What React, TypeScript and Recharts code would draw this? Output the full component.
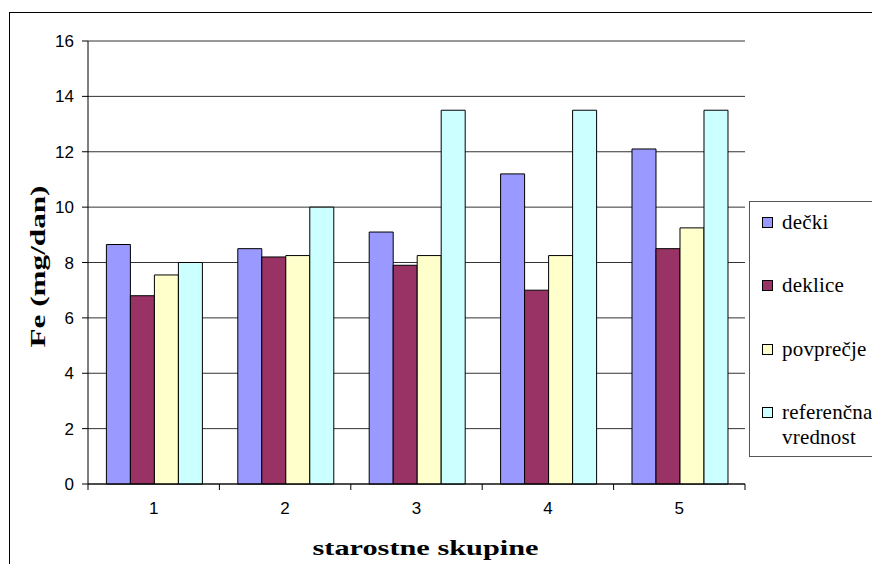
import React from 'react';
import { BarChart, Bar, XAxis, YAxis, CartesianGrid, Legend } from 'recharts';

const categories = ['1', '2', '3', '4', '5'];
const decki = [8.65, 8.5, 9.1, 11.2, 12.1];
const deklice = [6.8, 8.2, 7.9, 7.0, 8.5];
const povprecje = [7.55, 8.25, 8.25, 8.25, 9.25];
const referencna = [8.0, 10.0, 13.5, 13.5, 13.5];
const yTicks = [0, 2, 4, 6, 8, 10, 12, 14, 16];

const seriesNames = ['dečki', 'deklice', 'povprečje', 'referenčna vrednost'];
const seriesKeys = ['decki', 'deklice', 'povprecje', 'referencna'];
const seriesColors = ['#9999FF', '#993366', '#FFFFCC', '#CCFFFF'];
const seriesValues = [decki, deklice, povprecje, referencna];

const xTitle = 'starostne skupine';
const yTitle = 'Fe (mg/dan)';

const data = categories.map((c, i) => {
  const row: any = { cat: c };
  seriesKeys.forEach((k, j) => {
    row[k] = seriesValues[j][i];
  });
  return row;
});

const W = 872;
const H = 564;
const MARGIN = { top: 41, right: 127, bottom: 0, left: 0 };
const Y_AXIS_W = 88;
const X_AXIS_H = 80;
const TICK_SIZE = 6;
const X_TICK_MARGIN = 12;
const BAND = (W - MARGIN.right - Y_AXIS_W) / categories.length;

const sans = '"Liberation Sans", Arial, sans-serif';
const serif = '"Liberation Serif", "Times New Roman", serif';

function XTick(props: any) {
  const { x, y, payload, index, visibleTicksCount } = props;
  const half = payload && typeof payload.offset === 'number' && payload.offset > 0 ? payload.offset : BAND / 2;
  const axisY = y - TICK_SIZE - X_TICK_MARGIN;
  const isLast = index === visibleTicksCount - 1;
  return (
    <g>
      <line x1={x - half} x2={x - half} y1={axisY} y2={axisY + TICK_SIZE} stroke="#000" />
      {isLast && <line x1={x + half} x2={x + half} y1={axisY} y2={axisY + TICK_SIZE} stroke="#000" />}
      <text x={x} y={y} dy="0.71em" textAnchor="middle" fontSize={17} fontFamily={sans} fill="#000">
        {payload.value}
      </text>
    </g>
  );
}

function XTitle(props: any) {
  const vb = props.viewBox || { x: 88, y: 484, width: 657, height: 80 };
  return (
    <text
      x={vb.x + vb.width / 2 + 9}
      y={vb.y + 71}
      textAnchor="middle"
      fontSize={21}
      fontWeight="bold"
      fontFamily={serif}
      fill="#000"
      textLength={226}
      lengthAdjust="spacingAndGlyphs"
    >
      {xTitle}
    </text>
  );
}

function YTitle(props: any) {
  const vb = props.viewBox || { x: 0, y: 41, width: 88, height: 443 };
  const cx = vb.x + 45;
  const cy = vb.y + vb.height / 2 + 4;
  return (
    <text
      x={cx}
      y={cy}
      transform={`rotate(-90, ${cx}, ${cy})`}
      textAnchor="middle"
      fontSize={21}
      fontWeight="bold"
      fontFamily={serif}
      fill="#000"
      textLength={162}
      lengthAdjust="spacingAndGlyphs"
    >
      {yTitle}
    </text>
  );
}

function LegendBox() {
  return (
    <div
      style={{
        position: 'relative',
        width: 140,
        height: 256,
        border: '1px solid #555',
        boxSizing: 'border-box',
        background: '#fff',
      }}
    >
      {seriesNames.map((name, i) => (
        <div
          key={name}
          style={{
            position: 'absolute',
            left: 12,
            top: 20.5 + i * 63.3 - 12.5,
            display: 'flex',
            alignItems: 'flex-start',
          }}
        >
          <span
            style={{
              display: 'inline-block',
              width: 9,
              height: 9,
              border: '1px solid #000',
              background: seriesColors[i],
              marginTop: 7,
              marginRight: 9,
              flex: 'none',
            }}
          />
          <span
            style={{
              display: 'inline-block',
              maxWidth: 100,
              textAlign: 'left',
              fontFamily: serif,
              fontSize: 21,
              letterSpacing: 0.2,
              lineHeight: '25px',
              color: '#000',
              whiteSpace: 'normal',
            }}
          >
            {name}
          </span>
        </div>
      ))}
    </div>
  );
}

export default function App() {
  return (
    <div
      style={{
        position: 'absolute',
        left: 0,
        top: 0,
        width: W,
        height: H,
        overflow: 'hidden',
        background: '#fff',
      }}
    >
      <div
        style={{
          position: 'absolute',
          left: 9,
          top: 12,
          width: 1000,
          height: 1000,
          border: '1px solid #000',
        }}
      />
      <div style={{ position: 'absolute', left: 0, top: 0 }}>
        <BarChart
          width={W}
          height={H}
          data={data}
          margin={MARGIN}
          barCategoryGap="14%"
          barGap={0}
        >
          <CartesianGrid vertical={false} stroke="#333" />
          <XAxis
            dataKey="cat"
            height={X_AXIS_H}
            interval={0}
            tickLine={false}
            tickSize={TICK_SIZE}
            tickMargin={X_TICK_MARGIN}
            axisLine={{ stroke: '#000' }}
            tick={<XTick />}
            label={{ value: xTitle, content: XTitle }}
          />
          <YAxis
            width={Y_AXIS_W}
            domain={[0, 16]}
            ticks={yTicks}
            interval={0}
            tickSize={TICK_SIZE}
            tickMargin={8}
            axisLine={{ stroke: '#000' }}
            tickLine={{ stroke: '#000' }}
            tick={{ fontSize: 17, fontFamily: sans, fill: '#000' }}
            label={{ value: yTitle, content: YTitle }}
          />
          <YAxis
            yAxisId="r"
            orientation="right"
            width={0}
            domain={[0, 16]}
            tick={false}
            tickLine={false}
            axisLine={{ stroke: '#808080' }}
          />
          <Legend
            layout="vertical"
            align="center"
            verticalAlign="middle"
            wrapperStyle={{ left: 749, top: 201, width: 140, height: 256 }}
            content={() => <LegendBox />}
          />
          {seriesKeys.map((k, i) => (
            <Bar
              key={k}
              dataKey={k}
              name={seriesNames[i]}
              fill={seriesColors[i]}
              stroke="#000"
              strokeWidth={1}
              isAnimationActive={false}
            />
          ))}
        </BarChart>
      </div>
    </div>
  );
}
